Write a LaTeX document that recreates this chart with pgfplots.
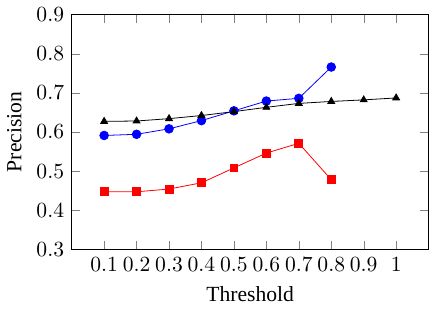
\documentclass[11pt,border=0pt]{standalone}
\usepackage[no-math]{fontspec}
\setmainfont{Liberation Serif}
\usepackage{pgfplots}
\pgfplotsset{compat=1.18}
\begin{document}
\begin{tikzpicture}
\begin{axis}[
  scale only axis,
  width=181pt, height=119pt,
  xmin=0, xmax=1.1, ymin=0.3, ymax=0.9,
  xtick={0.1,0.2,0.3,0.4,0.5,0.6,0.7,0.8,0.9,1},
  ytick={0.3,0.4,0.5,0.6,0.7,0.8,0.9},
  xticklabels={0.1,0.2,0.3,0.4,0.5,0.6,0.7,0.8,0.9,1},
  ticklabel style={font=\fontfamily{lmr}\selectfont},
  /pgf/number format/assume math mode=true,
  yticklabel style={/pgf/number format/fixed, /pgf/number format/precision=1, /pgf/number format/fixed zerofill},
  xlabel={Threshold}, ylabel={Precision},
]
\addplot[color=blue, mark=*, mark size=2.2pt] coordinates {
  (0.1,0.591) (0.2,0.594) (0.3,0.608) (0.4,0.629) (0.5,0.654) (0.6,0.679) (0.7,0.686) (0.8,0.766)
};
\addplot[color=red, mark=square*] coordinates {
  (0.1,0.447) (0.2,0.447) (0.3,0.454) (0.4,0.470) (0.5,0.508) (0.6,0.546) (0.7,0.571) (0.8,0.478)
};
\addplot[color=black, mark=triangle*] coordinates {
  (0.1,0.627) (0.2,0.628) (0.3,0.634) (0.4,0.642) (0.5,0.652) (0.6,0.663) (0.7,0.673) (0.8,0.678) (0.9,0.682) (1,0.687)
};
\end{axis}
\end{tikzpicture}
\end{document}
